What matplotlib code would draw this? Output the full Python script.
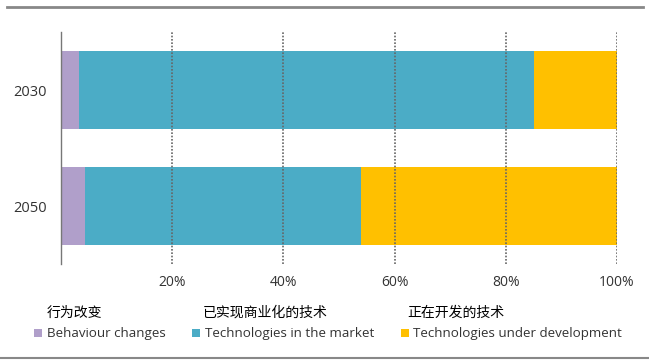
import matplotlib.pyplot as plt
from matplotlib.lines import Line2D
from matplotlib.patches import Patch

years = ["2030", "2050"]
behaviour = [3.2, 4.3]
market = [81.9, 49.7]
developing = [14.9, 46.0]

labels_en = ["Behaviour changes", "Technologies in the market", "Technologies under development"]
labels_cn = ["行为改变", "已实现商业化的技术", "正在开发的技术"]
colors = ["#B09FCA", "#4BACC6", "#FFC000"]
ticks = [20, 40, 60, 80, 100]

plt.rcParams['font.family'] = ['Open Sans', 'Noto Sans CJK SC', 'DejaVu Sans']

W, H = 649, 361
fig = plt.figure(figsize=(W / 100, H / 100), dpi=100)
ax = fig.add_axes([61 / W, 1 - 264 / H, 556 / W, 232 / H])

pos = list(range(len(years)))
left = [0] * len(years)
for vals, c in zip([behaviour, market, developing], colors):
    ax.barh(pos, vals, left=left, height=0.664, color=c, zorder=2)
    left = [l + v for l, v in zip(left, vals)]

ax.set_xlim(0, 100)
ax.set_ylim(1.5, -0.5)
ax.set_yticks(pos)
ax.set_yticklabels(years)
ax.set_xticks(ticks)
ax.set_xticklabels([f"{t}%" for t in ticks])
for t in ticks:
    ax.axvline(t, color="#666666", linestyle=(0, (1, 1)), linewidth=1.2, zorder=3)

for s in ["top", "right", "bottom"]:
    ax.spines[s].set_visible(False)
ax.spines["left"].set_color("#777777")
ax.spines["left"].set_linewidth(1)
ax.tick_params(axis="both", length=0, labelsize=10, colors="#333333")
ax.tick_params(axis="y", pad=10, labelsize=10.5)
ax.tick_params(axis="x", pad=8)

# frame lines
fig.add_artist(Line2D([7 / W, 643 / W], [1 - 7 / H, 1 - 7 / H], color="#888888", linewidth=2))
fig.add_artist(Line2D([0, 1], [1 - 358 / H, 1 - 358 / H], color="#888888", linewidth=1.5))

handles = [Patch(facecolor=c, edgecolor="none") for c in colors]
fig.legend(handles, labels_en, loc="center left", bbox_to_anchor=(22 / W, 1 - 334 / H),
           ncol=3, frameon=False, fontsize=9.6, handlelength=0.6, handleheight=0.6,
           handletextpad=0.35, columnspacing=2.0, labelcolor="#333333")

for x, t in zip([47, 203, 407], labels_cn):
    fig.text(x / W, 1 - 313 / H, t, fontsize=10, color="black",
             family=['Noto Sans CJK SC', 'DejaVu Sans'], va="center", ha="left")

fig.savefig("out.png", dpi=100)
